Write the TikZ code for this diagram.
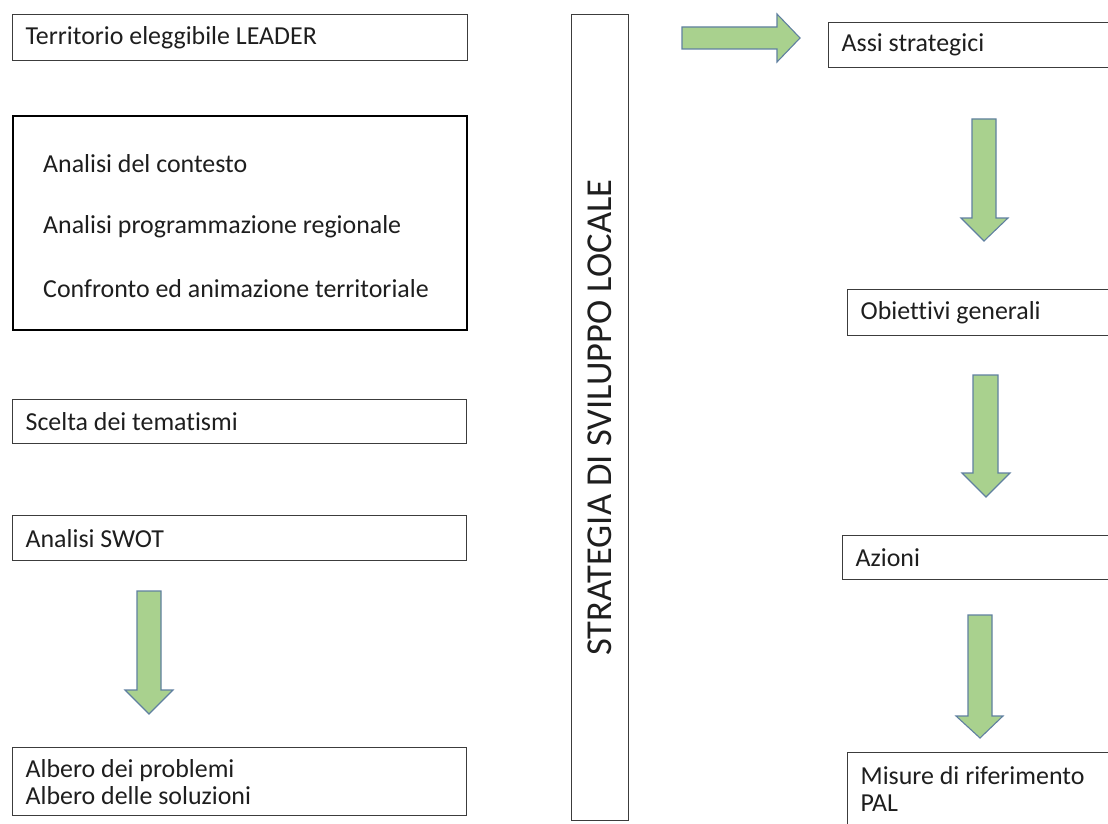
\documentclass[tikz,border=0pt]{standalone}
\usepackage{fontspec}
\setmainfont{Carlito}[Ligatures=NoCommon]
\begin{document}
\begin{tikzpicture}[x=1pt,y=-1pt,
  box/.style={draw={rgb,255:red,60;green,60;blue,60}, line width=1.3pt, anchor=north west, inner xsep=13pt, inner ysep=0pt, align=flush left, font=\fontsize{25.9}{27}\selectfont, text={rgb,255:red,30;green,30;blue,30}},
  bigbox/.style={draw=black, line width=2.4pt, anchor=north west, inner sep=0pt},
  plain/.style={anchor=west, inner sep=0pt, font=\fontsize{25.9}{27}\selectfont, text={rgb,255:red,30;green,30;blue,30}},
  blockarrow/.style={fill={rgb,255:red,169;green,209;blue,142}, draw={rgb,255:red,96;green,128;blue,160}, line width=1.1pt, line join=miter}
]
\useasboundingbox (0,0) rectangle (1108,824);
\clip (0,0) rectangle (1108,824);
\fill[white] (0,0) rectangle (1108,824);

% left column
\node[box, text width=429pt, minimum height=46pt] (terr) at (12,14) {Territorio eleggibile LEADER};
\node[bigbox, minimum width=454pt, minimum height=214pt] (analisi) at (12,115) {};
\node[plain] (t1) at (43,164) {Analisi del contesto};
\node[plain] (t2) at (43,227) {Analisi programmazione regionale};
\node[plain] (t3) at (43,289) {Confronto ed animazione territoriale};
\node[box, text width=428pt, minimum height=44pt] (scelta) at (12,399) {Scelta dei tematismi};
\node[box, text width=428pt, minimum height=45pt] (swot) at (12,515) {Analisi SWOT};
\node[box, text width=428pt, minimum height=68pt] (albero) at (12,747) {Albero dei problemi\\Albero delle soluzioni};

% left down arrow
\draw[blockarrow] (137,591) -- (161,591) -- (161,690) -- (173,690) -- (149,714) -- (125,690) -- (137,690) -- cycle;

% vertical box
\node[draw={rgb,255:red,60;green,60;blue,60}, line width=1.3pt, anchor=north west, minimum width=57pt, minimum height=806pt, inner sep=0pt] (strat) at (571,14) {};
\node[rotate=90, inner sep=0pt, font=\fontsize{36.5}{38}\selectfont, text={rgb,255:red,30;green,30;blue,30}] (stratlab) at (strat.center) {STRATEGIA DI SVILUPPO LOCALE};

% right arrow
\draw[blockarrow] (682,27) -- (777,27) -- (777,14) -- (800,38) -- (777,62) -- (777,49) -- (682,49) -- cycle;

% right column
\node[box, text width=300pt, minimum height=45pt] (assi) at (828,22) {Assi strategici};
\node[box, text width=300pt, minimum height=46pt] (obiett) at (847,289) {Obiettivi generali};
\node[box, text width=300pt, minimum height=44pt] (azioni) at (842,535) {Azioni};
\node[box, text width=300pt, minimum height=73pt] (misure) at (847,752) {Misure di riferimento\\PAL};

\draw[blockarrow] (972,119) -- (996,119) -- (996,218) -- (1008,218) -- (984,241) -- (961,218) -- (972,218) -- cycle;
\draw[blockarrow] (973,375) -- (998,375) -- (998,473) -- (1010,473) -- (986,497) -- (962,473) -- (973,473) -- cycle;
\draw[blockarrow] (968,615) -- (992,615) -- (992,716) -- (1003,716) -- (980,738) -- (956,716) -- (968,716) -- cycle;
\end{tikzpicture}
\end{document}
